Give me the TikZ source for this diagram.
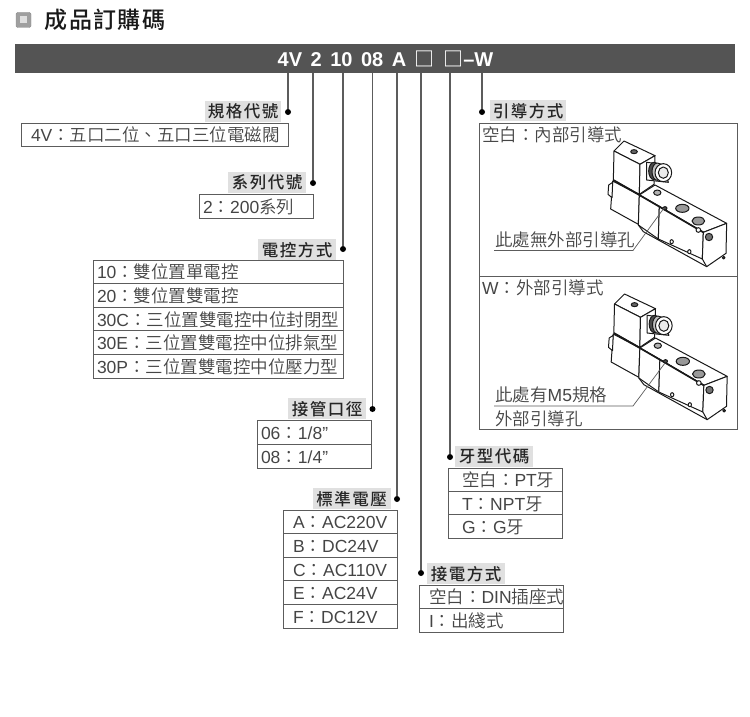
\documentclass[tikz,border=0pt]{standalone}
\usepackage{fontspec}
\usepackage{xcolor}
\usepackage{tikz}
\usetikzlibrary{positioning}
\setmainfont{Liberation Sans}
\newfontfamily\cjkfont{Noto Sans CJK TC DemiLight}
\newfontfamily\cjklabel[LetterSpace=9]{Noto Sans CJK TC Medium}
\newfontfamily\cjktitle[LetterSpace=6]{Noto Sans CJK TC Medium}
\newcommand{\zh}[1]{{\cjkfont #1}}
\definecolor{bargray}{gray}{0.33}
\definecolor{tagfill}{gray}{0.88}
\definecolor{rulegray}{gray}{0.36}
\definecolor{optgray}{gray}{0.27}
\tikzset{
  % Header
  codebar/.style={rectangle, draw=none, fill=bargray, minimum width=720pt, minimum height=29pt, inner sep=0pt},
  % Option tables
  tag/.style={rectangle, fill=tagfill, inner xsep=0pt, inner ysep=0pt, minimum width=#1, minimum height=21pt, text=black!85, font=\fontsize{16.5}{18}\cjklabel},
  tag/.default={78pt},
  optrow/.style={rectangle, draw=rulegray, line width=0.9pt, outer sep=0pt, inner ysep=0pt, inner xsep=#1, text height=15pt, text depth=1pt, text=optgray, font=\fontsize{17.5}{20}\selectfont, anchor=north west},
  optrow/.default={4pt},
  joint/.style={circle, fill=black, inner sep=0pt, minimum size=6pt},
  leader/.style={draw=rulegray, line width=1.2pt},
  note/.style={inner sep=0pt, anchor=west, text=optgray, font=\fontsize{17.5}{20}\selectfont},
  pointer/.style={draw=rulegray, line width=0.7pt},
  % Valve sketch
  valveline/.style={draw=black!90, line width=1pt, fill=white, line join=round},
  valve/.pic={
    \path[valveline] (38,138) -- (118,180) -- (115,268) -- (32,222) -- cycle;
    \path[valveline] (26,150) -- (38,142) -- (36,188) -- (24,178) -- cycle;
    \path[valveline] (42,48) -- (72,18) -- (165,62) -- (120,88) -- cycle;
    \path[valveline] (42,48) -- (120,88) -- (118,178) -- (40,135) -- cycle;
    \path[valveline] (120,88) -- (165,62) -- (162,148) -- (118,178) -- cycle;
    \path[valveline] (118,180) -- (165,150) -- (380,265) -- (310,292) -- cycle;
    \path[valveline] (118,180) -- (178,214) -- (175,312) -- (115,270) -- cycle;
    \path[valveline] (178,214) -- (310,292) -- (307,372) -- (175,312) -- cycle;
    \path[valveline] (310,292) -- (380,265) -- (378,355) -- (320,395) -- (307,372) -- cycle;
    \draw[draw=black!90, line width=1.7pt] (118,180) -- (310,292);
    \draw[draw=black!90, line width=1pt] (115,270) -- (130,290) -- (320,395);
    \draw[draw=black!90, line width=1.7pt] (40,135) -- (118,180);
    % Connector
    \path[valveline] (140,82) -- (190,88) -- (205,142) -- (140,135) -- cycle;
    \path[valveline, fill=black!70] (162,108) ellipse (16 and 26);
    \path[valveline, fill=black!25] (172,110) ellipse (16 and 26);
    \path[valveline] (190,113) ellipse (25 and 27);
    \path[valveline, fill=black!8] (190,113) ellipse (15 and 17);
    % Holes
    \path[valveline, fill=black!60] (102,50) ellipse (10 and 6);
    \path[valveline, fill=black!30] (172,173) ellipse (11 and 8);
    \path[valveline, fill=black!40] (247,220) ellipse (20 and 12);
    \path[valveline, fill=black!40] (295,258) ellipse (19 and 12);
    \path[valveline] (295,285) circle (7);
    \path[valveline, fill=black!70] (195,220) ellipse (6 and 5);
    \path[valveline] (215,320) ellipse (5 and 6);
    \path[valveline] (268,350) ellipse (5 and 6);
    \path[valveline, fill=black!55] (327,306) circle (11);
    \path[valveline, fill=black!70] (371,368) circle (4);
  },
}
\begin{document}
\begin{tikzpicture}[x=1pt, y=-1pt]
    \useasboundingbox (0,0) rectangle (750,717);

    % Title
    \node[rectangle, fill=gray!75, draw=gray!90, rounded corners=1.5pt, minimum size=15pt, inner sep=0pt] (mark) at (23.5,20) {};
    \node[rectangle, fill=gray!25, minimum size=7pt, inner sep=0pt] (markin) at (mark.center) {};
    \node[inner sep=0pt, anchor=west, text=black!90, font=\fontsize{23}{26}\cjktitle] (title) at (44.5,19.5) {成品訂購碼};

    % Header
    \node[codebar, anchor=north west] (bar) at (15,44) {};
    \node[text=white, inner sep=0pt, font=\fontsize{20}{24}\bfseries] (code) at (385.5,58.5) {\spaceskip=8.5pt 4V 2 10 08 A {\color{white!75}\zh{□}} {\color{white!75}\zh{□}}--W};

    % Spec
    \node[tag=76pt, anchor=north west] (spec) at (205,101) {規格代號};
    \node[optrow=10pt, at={(21,123)}, minimum height=23pt, text width=247pt] (specrow) {4V\zh{：五口二位、五口三位電磁閥}};

    % Series
    \node[tag, anchor=north west] (series) at (228,172) {系列代號};
    \node[optrow, at={(199,194)}, minimum height=24pt, text width=106pt] (seriesrow) {2\zh{：}200\zh{系列}};

    % Actuation
    \node[tag, anchor=north west] (ctrl) at (258,239) {電控方式};
    \node[optrow, at={(93,260)}, minimum height=23.6pt, text width=242pt] (ctrla) {10\zh{：雙位置單電控}};
    \node[optrow, below=0pt of ctrla.south west, anchor=north west, minimum height=23.6pt, text width=242pt] (ctrlb) {20\zh{：雙位置雙電控}};
    \node[optrow, below=0pt of ctrlb.south west, anchor=north west, minimum height=23.6pt, text width=242pt] (ctrlc) {30C\zh{：三位置雙電控中位封閉型}};
    \node[optrow, below=0pt of ctrlc.south west, anchor=north west, minimum height=23.6pt, text width=242pt] (ctrld) {30E\zh{：三位置雙電控中位排氣型}};
    \node[optrow, below=0pt of ctrld.south west, anchor=north west, minimum height=23.6pt, text width=242pt] (ctrle) {30P\zh{：三位置雙電控中位壓力型}};

    % Port size
    \node[tag, anchor=north west] (port) at (288,398) {接管口徑};
    \node[optrow, at={(257,420)}, minimum height=24pt, text width=106pt] (porta) {06\zh{：}1/8"};
    \node[optrow, below=0pt of porta.south west, anchor=north west, minimum height=24pt, text width=106pt] (portb) {08\zh{：}1/4"};

    % Voltage
    \node[tag, anchor=north west] (volt) at (312.5,488) {標準電壓};
    \node[optrow=10pt, at={(283,510)}, minimum height=23.6pt, text width=94pt] (volta) {A\zh{：}AC220V};
    \node[optrow=10pt, below=0pt of volta.south west, anchor=north west, minimum height=23.6pt, text width=94pt] (voltb) {B\zh{：}DC24V};
    \node[optrow=10pt, below=0pt of voltb.south west, anchor=north west, minimum height=23.6pt, text width=94pt] (voltc) {C\zh{：}AC110V};
    \node[optrow=10pt, below=0pt of voltc.south west, anchor=north west, minimum height=23.6pt, text width=94pt] (voltd) {E\zh{：}AC24V};
    \node[optrow=10pt, below=0pt of voltd.south west, anchor=north west, minimum height=23.6pt, text width=94pt] (volte) {F\zh{：}DC12V};

    % Wiring
    \node[tag, anchor=north west] (wire) at (427,563) {接電方式};
    \node[optrow, at={(419,585)}, minimum height=23.6pt, text width=136pt] (wirea) {\hspace*{6pt}\zh{空白：}DIN\zh{插座式}};
    \node[optrow, below=0pt of wirea.south west, anchor=north west, minimum height=23.6pt, text width=136pt] (wireb) {\hspace*{6pt}I\zh{：出綫式}};

    % Thread
    \node[tag, anchor=north west] (thread) at (455,446) {牙型代碼};
    \node[optrow=14pt, at={(448,468)}, minimum height=23.4pt, text width=86pt] (threada) {\zh{空白：}PT\zh{牙}};
    \node[optrow=14pt, below=0pt of threada.south west, anchor=north west, minimum height=23.4pt, text width=86pt] (threadb) {T\zh{：}NPT\zh{牙}};
    \node[optrow=14pt, below=0pt of threadb.south west, anchor=north west, minimum height=23.4pt, text width=86pt] (threadc) {G\zh{：}G\zh{牙}};

    % Pilot
    \node[tag=76pt, anchor=north west] (pilot) at (490,100) {引導方式};
    \node[rectangle, draw=rulegray, line width=0.9pt, outer sep=0pt, minimum width=258pt, minimum height=153pt, anchor=north west, inner sep=0pt] (pilota) at (479,123) {};
    \node[rectangle, draw=rulegray, line width=0.9pt, outer sep=0pt, minimum width=258pt, minimum height=153pt, inner sep=0pt, anchor=north west] (pilotb) at (pilota.south west) {};
    \node[note] (innertxt) at (482,135) {\zh{空白：內部引導式}};
    \node[note] (outertxt) at (482,288) {W\zh{：外部引導式}};

    \pic[scale=1/3] at (600,135) {valve};
    \pic[scale=1/3] at (600.5,288) {valve};

    % Pointer notes
    \node[note] (nohole) at (495,240) {\zh{此處無外部引導孔}};
    \coordinate (nohole0) at (494,250.5);
    \coordinate (nohole1) at (633,250.5);
    \coordinate (nohole2) at (664,208);
    \draw[pointer] (nohole0) -- (nohole1) -- (nohole2);
    \node[note] (mfive) at (495,395) {\zh{此處有}M5\zh{規格}};
    \node[note] (mfiveb) at (495,419) {\zh{外部引導孔}};
    \coordinate (mfive0) at (494,406);
    \coordinate (mfive1) at (633,406);
    \coordinate (mfive2) at (665,363);
    \draw[pointer] (mfive0) -- (mfive1) -- (mfive2);

    % Joints
    \node[joint] (jspec) at (288,112) {};
    \node[joint] (jseries) at (313,183) {};
    \node[joint] (jctrl) at (343,249) {};
    \node[joint] (jport) at (372.5,409) {};
    \node[joint] (jvolt) at (397,499) {};
    \node[joint] (jwire) at (421,573) {};
    \node[joint] (jthread) at (450,457) {};
    \node[joint] (jpilot) at (482,112) {};

    % Leaders
    \coordinate (tspec) at (288,73);
    \coordinate (tseries) at (313,73);
    \coordinate (tctrl) at (343,73);
    \coordinate (tport) at (372.5,73);
    \coordinate (tvolt) at (397,73);
    \coordinate (twire) at (421,73);
    \coordinate (tthread) at (450,73);
    \coordinate (tpilot) at (482,73);
    \draw[leader] (tspec) -- (jspec);
    \draw[leader] (tseries) -- (jseries);
    \draw[leader] (tctrl) -- (jctrl);
    \draw[leader] (tport) -- (jport);
    \draw[leader] (tvolt) -- (jvolt);
    \draw[leader] (twire) -- (jwire);
    \draw[leader] (tthread) -- (jthread);
    \draw[leader] (tpilot) -- (jpilot);
\end{tikzpicture}
\end{document}
